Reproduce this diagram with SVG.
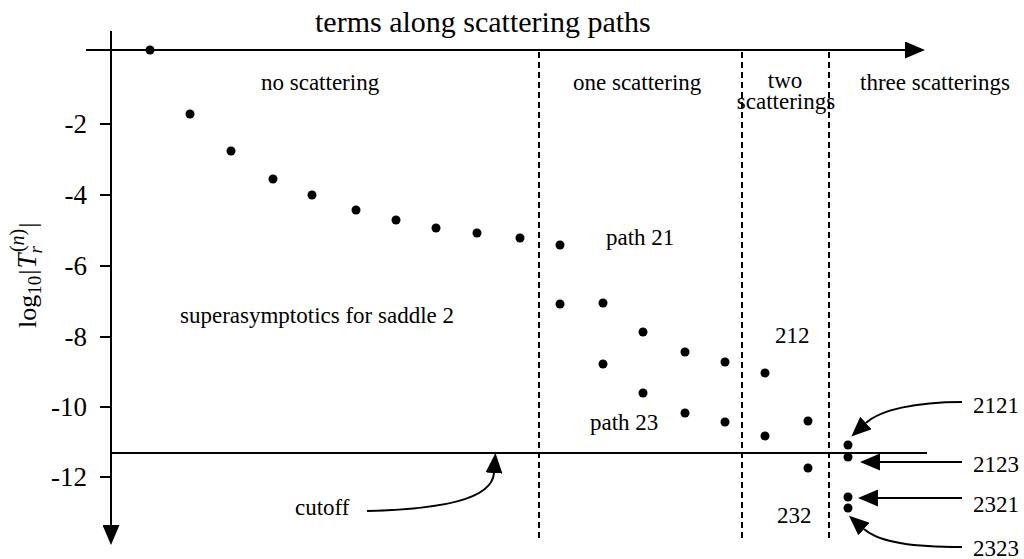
<svg xmlns="http://www.w3.org/2000/svg" width="1024" height="559" viewBox="0 0 1024 559">
  <style>
    text { font-family: "Liberation Serif", "Times New Roman", serif; fill: #000; }
    .lbl { font-size: 23px; }
    .tick { font-size: 27px; text-anchor: end; }
    .axis { stroke: #000; stroke-width: 2; fill: none; }
    .dash { stroke: #000; stroke-width: 2; stroke-dasharray: 6 4; fill: none; }
    .arrow { stroke: #000; stroke-width: 2; fill: none; marker-end: url(#head); }
    .dot { fill: #000; }
  </style>
  <defs>
    <marker id="head" markerUnits="userSpaceOnUse" viewBox="0 0 20 17" refX="0" refY="8.5" markerWidth="20" markerHeight="17" orient="auto">
      <path d="M0,0 L20,8.5 L0,17 Z" fill="#000"/>
    </marker>
  </defs>

  <rect width="1024" height="559" fill="#fff"/>

  <!-- axes -->
  <g id="axes">
    <line class="axis" x1="86" y1="50" x2="905" y2="50" marker-end="url(#head)"/>
    <line class="axis" x1="111" y1="31" x2="111" y2="525" marker-end="url(#head)"/>
    <g class="axis">
      <line x1="100" y1="124" x2="111" y2="124"/>
      <line x1="100" y1="195" x2="111" y2="195"/>
      <line x1="100" y1="266" x2="111" y2="266"/>
      <line x1="100" y1="337" x2="111" y2="337"/>
      <line x1="100" y1="407" x2="111" y2="407"/>
      <line x1="100" y1="477" x2="111" y2="477"/>
    </g>
    <text class="tick" x="87" y="133">-2</text>
    <text class="tick" x="87" y="204">-4</text>
    <text class="tick" x="87" y="275">-6</text>
    <text class="tick" x="87" y="346">-8</text>
    <text class="tick" x="87" y="416">-10</text>
    <text class="tick" x="87" y="486">-12</text>
    <text x="315" y="32" font-size="30">terms along scattering paths</text>
    <text transform="translate(36,328) rotate(-90)" font-size="26">log<tspan font-size="19" dy="5">10</tspan><tspan dy="-5" dx="1">|</tspan><tspan font-style="italic" font-size="27" dx="1">T</tspan><tspan font-style="italic" font-size="19" dy="6">r</tspan><tspan font-size="20" dx="-6" dy="-18">(<tspan font-style="italic">n</tspan>)</tspan><tspan dy="12" dx="1">|</tspan></text>
  </g>

  <!-- region separators and cutoff level -->
  <g id="regions">
    <line class="dash" x1="539" y1="52" x2="539" y2="542"/>
    <line class="dash" x1="742" y1="52" x2="742" y2="542"/>
    <line class="dash" x1="829" y1="52" x2="829" y2="542"/>
    <line class="axis" x1="111" y1="453" x2="927" y2="453"/>
    <text class="lbl" x="261" y="90">no scattering</text>
    <text class="lbl" x="573" y="90">one scattering</text>
    <text class="lbl" x="785" y="88" text-anchor="middle">two</text>
    <text class="lbl" x="786" y="109" text-anchor="middle">scatterings</text>
    <text class="lbl" x="860" y="90">three scatterings</text>
    <text class="lbl" x="180" y="323">superasymptotics for saddle 2</text>
  </g>

  <!-- terms: no scattering -->
  <g id="path-2">
    <circle class="dot" cx="150" cy="50" r="4.5"/>
    <circle class="dot" cx="190" cy="114" r="4.5"/>
    <circle class="dot" cx="231" cy="151" r="4.5"/>
    <circle class="dot" cx="273" cy="179" r="4.5"/>
    <circle class="dot" cx="312" cy="195" r="4.5"/>
    <circle class="dot" cx="356" cy="210" r="4.5"/>
    <circle class="dot" cx="396" cy="220" r="4.5"/>
    <circle class="dot" cx="436" cy="228" r="4.5"/>
    <circle class="dot" cx="477" cy="233" r="4.5"/>
    <circle class="dot" cx="520" cy="238" r="4.5"/>
  </g>

  <!-- terms: path 21 -->
  <g id="path-21">
    <circle class="dot" cx="560" cy="245" r="4.5"/>
    <text class="lbl" x="606" y="245">path 21</text>
  </g>

  <!-- terms: path 212 sequence -->
  <g id="path-212">
    <circle class="dot" cx="560" cy="304" r="4.5"/>
    <circle class="dot" cx="603" cy="303" r="4.5"/>
    <circle class="dot" cx="643" cy="332" r="4.5"/>
    <circle class="dot" cx="685" cy="352" r="4.5"/>
    <circle class="dot" cx="725" cy="362" r="4.5"/>
    <circle class="dot" cx="765" cy="373" r="4.5"/>
    <text class="lbl" x="775" y="343">212</text>
  </g>

  <!-- terms: path 23 sequence -->
  <g id="path-23">
    <circle class="dot" cx="603" cy="364" r="4.5"/>
    <circle class="dot" cx="643" cy="393" r="4.5"/>
    <circle class="dot" cx="685" cy="413" r="4.5"/>
    <circle class="dot" cx="725" cy="422" r="4.5"/>
    <circle class="dot" cx="765" cy="436" r="4.5"/>
    <circle class="dot" cx="808" cy="421" r="4.5"/>
    <text class="lbl" x="590" y="430">path 23</text>
  </g>

  <g id="path-232">
    <circle class="dot" cx="808" cy="468" r="4.5"/>
    <text class="lbl" x="777" y="523">232</text>
  </g>

  <!-- terms: three scatterings -->
  <g id="path-3">
    <circle class="dot" cx="848" cy="445" r="4.5"/>
    <circle class="dot" cx="848" cy="457" r="4.5"/>
    <circle class="dot" cx="848" cy="497" r="4.5"/>
    <circle class="dot" cx="848" cy="508" r="4.5"/>
    <text class="lbl" x="973" y="413">2121</text>
    <text class="lbl" x="973" y="472">2123</text>
    <text class="lbl" x="973" y="512">2321</text>
    <text class="lbl" x="973" y="556">2323</text>
  </g>

  <g id="cutoff-label">
    <text class="lbl" x="295" y="515">cutoff</text>
  </g>

  <!-- connectors -->
  <g id="connectors">
    <path class="arrow" d="M367,511 C440,509 492,500 494,473"/>
    <path class="arrow" d="M962,402 C915,402 880,410 866,423"/>
    <path class="arrow" d="M962,462 L880,462"/>
    <path class="arrow" d="M962,498 L878,498"/>
    <path class="arrow" d="M962,547 C915,547 880,543 864,529"/>
  </g>
</svg>
